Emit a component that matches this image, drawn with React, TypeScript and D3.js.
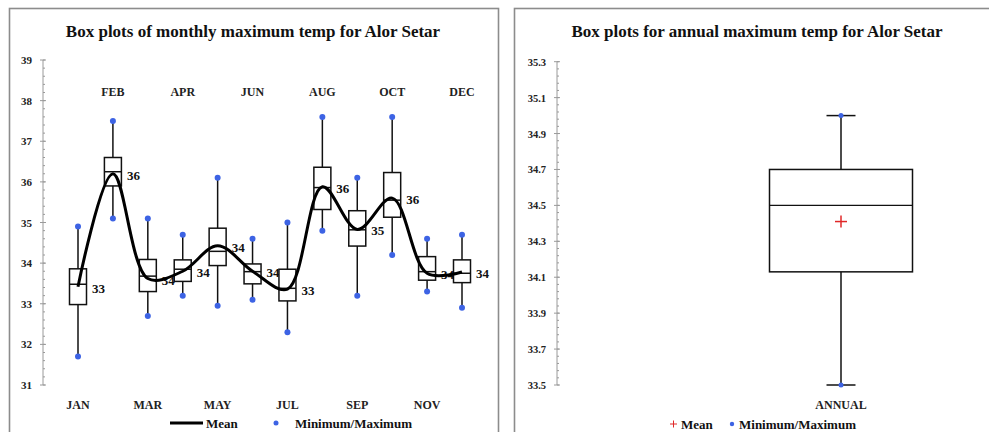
import React from "react";
import * as d3 from "d3";

const months = ["JAN", "FEB", "MAR", "APR", "MAY", "JUN", "JUL", "AUG", "SEP", "OCT", "NOV", "DEC"];
const monthMin = [31.7, 35.1, 32.7, 33.2, 32.95, 33.1, 32.3, 34.8, 33.2, 34.2, 33.3, 32.9];
const monthQ1 = [32.98, 35.9, 33.3, 33.55, 33.94, 33.49, 33.07, 35.32, 34.42, 35.13, 33.58, 33.52];
const monthMedian = [33.48, 36.25, 33.68, 33.85, 34.29, 33.79, 33.38, 35.86, 34.82, 35.55, 33.79, 33.75];
const monthQ3 = [33.86, 36.6, 34.09, 34.08, 34.86, 33.98, 33.85, 36.36, 35.29, 36.23, 34.16, 34.08];
const monthMax = [34.9, 37.5, 35.1, 34.7, 36.1, 34.6, 35.0, 37.6, 36.1, 37.6, 34.6, 34.7];
const monthMean = [33.42, 36.2, 33.62, 33.8, 34.43, 33.8, 33.36, 35.88, 34.83, 35.6, 33.75, 33.78];
const monthMeanLabels = ["33", "36", "34", "34", "34", "34", "33", "36", "35", "36", "34", "34"];
const leftTicks = [31, 32, 33, 34, 35, 36, 37, 38, 39];

const annualLabel = ["ANNUAL"];
const annualMin = [33.5];
const annualQ1 = [34.13];
const annualMedian = [34.5];
const annualQ3 = [34.7];
const annualMax = [35.0];
const annualMean = [34.41];
const rightTicks = [33.5, 33.7, 33.9, 34.1, 34.3, 34.5, 34.7, 34.9, 35.1, 35.3];

const FONT = "'Liberation Serif', 'Times New Roman', serif";
const BLUE = "#3d63e4";
const RED = "#e02828";
const AXIS = "#9a9a9a";

export default function App() {
  // Left panel scales
  const x = d3.scalePoint<string>().domain(months).range([78, 462]).padding(0);
  const y = d3.scaleLinear().domain([31, 39]).range([385, 60]);
  const leftMinor = d3.range(31, 39.0001, 0.2);

  // Right panel scales
  const xr = d3.scalePoint<string>().domain(annualLabel).range([841, 841]);
  const yr = d3.scaleLinear().domain([33.5, 35.3]).range([385, 61.7]);
  const rightMinor = d3.range(33.5, 35.3001, 0.04);

  const meanLine = d3
    .line<number>()
    .x((_, i) => x(months[i]) as number)
    .y((d) => y(d))
    .curve(d3.curveCatmullRom.alpha(0.5));

  const bw = 17;
  const rbw = 143;
  const capW = 29;

  return (
    <svg
      width={989}
      height={432}
      style={{ position: "absolute", left: 0, top: 0, display: "block", background: "#fff" }}
      fontFamily={FONT}
      fontWeight="bold"
    >
      <rect x={0} y={0} width={989} height={432} fill="#fff" />
      {/* Frames */}
      <rect x={9.5} y={8.5} width={489} height={440} fill="none" stroke="#8c8c8c" strokeWidth={1.6} />
      <rect x={514.5} y={8.5} width={500} height={440} fill="none" stroke="#8c8c8c" strokeWidth={1.6} />

      {/* ---------- LEFT PANEL ---------- */}
      <text x={253} y={37} textAnchor="middle" fontSize={17} fill="#111">
        Box plots of monthly maximum temp for Alor Setar
      </text>

      {/* y axis */}
      <line x1={43} x2={43} y1={y(31)} y2={y(39)} stroke={AXIS} strokeWidth={1} />
      {leftMinor.map((v, i) => (
        <line key={"lm" + i} x1={43} x2={45} y1={y(v)} y2={y(v)} stroke={AXIS} strokeWidth={1} />
      ))}
      {leftTicks.map((v) => (
        <g key={"lt" + v}>
          <line x1={40} x2={46} y1={y(v)} y2={y(v)} stroke={AXIS} strokeWidth={1} />
          <text x={32} y={y(v) + 4} textAnchor="end" fontSize={11} fill="#222">
            {v}
          </text>
        </g>
      ))}

      {/* month labels */}
      {months.map((m, i) => (
        <text
          key={"ml" + m}
          x={x(m) as number}
          y={i % 2 === 0 ? 409 : 96}
          textAnchor="middle"
          fontSize={12}
          fill="#222"
        >
          {m}
        </text>
      ))}

      {/* mean labels */}
      {months.map((m, i) => (
        <text key={"mv" + m} x={(x(m) as number) + 14} y={y(monthMean[i]) + 6} fontSize={13} fill="#111">
          {monthMeanLabels[i]}
        </text>
      ))}

      {/* whiskers and boxes */}
      {months.map((m, i) => {
        const cx = x(m) as number;
        return (
          <g key={"bx" + m}>
            <line x1={cx} x2={cx} y1={y(monthMax[i])} y2={y(monthMin[i])} stroke="#111" strokeWidth={1.5} />
            <rect
              x={cx - bw / 2}
              y={y(monthQ3[i])}
              width={bw}
              height={y(monthQ1[i]) - y(monthQ3[i])}
              fill="#fff"
              stroke="#111"
              strokeWidth={1.5}
            />
            <line
              x1={cx - bw / 2}
              x2={cx + bw / 2}
              y1={y(monthMedian[i])}
              y2={y(monthMedian[i])}
              stroke="#111"
              strokeWidth={1.5}
            />
          </g>
        );
      })}

      {/* mean line */}
      <path d={meanLine(monthMean) || ""} fill="none" stroke="#000" strokeWidth={3} />

      {/* min/max dots */}
      {months.map((m, i) => (
        <g key={"dt" + m}>
          <circle cx={x(m) as number} cy={y(monthMax[i])} r={3} fill={BLUE} />
          <circle cx={x(m) as number} cy={y(monthMin[i])} r={3} fill={BLUE} />
        </g>
      ))}

      {/* left legend */}
      <line x1={170} x2={203} y1={423} y2={423} stroke="#000" strokeWidth={3} />
      <text x={206} y={428} fontSize={13} fill="#111">
        Mean
      </text>
      <circle cx={276} cy={423} r={2.5} fill={BLUE} />
      <text x={295} y={428} fontSize={13} fill="#111">
        Minimum/Maximum
      </text>

      {/* ---------- RIGHT PANEL ---------- */}
      <text x={757} y={37} textAnchor="middle" fontSize={17} fill="#111">
        Box plots for annual maximum temp for Alor Setar
      </text>

      <line x1={557} x2={557} y1={yr(33.5)} y2={yr(35.3)} stroke={AXIS} strokeWidth={1} />
      {rightMinor.map((v, i) => (
        <line key={"rm" + i} x1={557} x2={559} y1={yr(v)} y2={yr(v)} stroke={AXIS} strokeWidth={1} />
      ))}
      {rightTicks.map((v) => (
        <g key={"rt" + v}>
          <line x1={554} x2={560} y1={yr(v)} y2={yr(v)} stroke={AXIS} strokeWidth={1} />
          <text x={546} y={yr(v) + 4} textAnchor="end" fontSize={10.5} fill="#222">
            {v.toFixed(1)}
          </text>
        </g>
      ))}

      {annualLabel.map((m, i) => {
        const cx = xr(m) as number;
        return (
          <g key={"an" + m}>
            <line x1={cx} x2={cx} y1={yr(annualMax[i])} y2={yr(annualMin[i])} stroke="#111" strokeWidth={1.5} />
            <line x1={cx - capW / 2} x2={cx + capW / 2} y1={yr(annualMax[i])} y2={yr(annualMax[i])} stroke="#111" strokeWidth={1.5} />
            <line x1={cx - capW / 2} x2={cx + capW / 2} y1={yr(annualMin[i])} y2={yr(annualMin[i])} stroke="#111" strokeWidth={1.5} />
            <rect
              x={cx - rbw / 2}
              y={yr(annualQ3[i])}
              width={rbw}
              height={yr(annualQ1[i]) - yr(annualQ3[i])}
              fill="#fff"
              stroke="#111"
              strokeWidth={1.5}
            />
            <line
              x1={cx - rbw / 2}
              x2={cx + rbw / 2}
              y1={yr(annualMedian[i])}
              y2={yr(annualMedian[i])}
              stroke="#111"
              strokeWidth={1.2}
            />
            <g stroke={RED} strokeWidth={1.5}>
              <line x1={cx - 6} x2={cx + 6} y1={yr(annualMean[i])} y2={yr(annualMean[i])} />
              <line x1={cx} x2={cx} y1={yr(annualMean[i]) - 6} y2={yr(annualMean[i]) + 6} />
            </g>
            <circle cx={cx} cy={yr(annualMax[i])} r={2.5} fill={BLUE} />
            <circle cx={cx} cy={yr(annualMin[i])} r={2.5} fill={BLUE} />
            <text x={cx} y={409} textAnchor="middle" fontSize={12} fill="#222">
              {m}
            </text>
          </g>
        );
      })}

      {/* right legend */}
      <g stroke={RED} strokeWidth={1}>
        <line x1={670} x2={677} y1={424} y2={424} />
        <line x1={673.5} x2={673.5} y1={420.5} y2={427.5} />
      </g>
      <text x={681} y={429} fontSize={13} fill="#111">
        Mean
      </text>
      <circle cx={732} cy={424} r={2.2} fill={BLUE} />
      <text x={739} y={429} fontSize={13} fill="#111">
        Minimum/Maximum
      </text>
    </svg>
  );
}
